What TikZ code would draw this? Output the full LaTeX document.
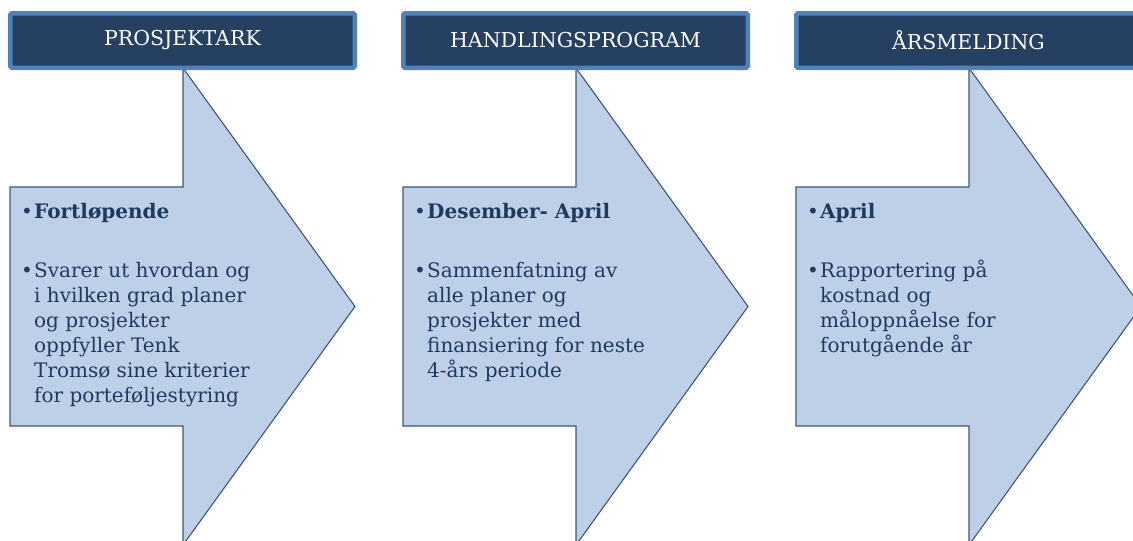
\documentclass[tikz,border=0pt]{standalone}
\usepackage{fontspec}
\setmainfont{DejaVu Serif}
\definecolor{hdrfill}{HTML}{264061}
\definecolor{hdrline}{HTML}{4F81BD}
\definecolor{arrfill}{HTML}{BED0E7}
\definecolor{arrline}{HTML}{3B5778}
\definecolor{txt}{HTML}{1F3A5F}
\tikzset{
  hdr/.style={draw=hdrline, line width=4.5pt, fill=hdrfill, rounded corners=1.5pt,
    minimum width=344.5pt, minimum height=54.5pt, inner sep=0pt, text=white,
    font=\fontsize{20.5}{25}\selectfont},
  arrowshape/.style={draw=arrline, fill=arrfill, line width=1.1pt, line join=miter},
  ttl/.style={anchor=base west, inner sep=0pt, text=txt, font=\fontsize{20}{25}\selectfont\bfseries},
  bodytxt/.style={anchor=base west, inner sep=0pt, text=txt, font=\fontsize{20}{25}\selectfont},
  bul/.style={anchor=base east, inner sep=0pt, xshift=-1pt, text=txt, font=\fontsize{20}{25}\selectfont},
}
\newcommand{\mybody}[1]{\parbox[t]{300pt}{\raggedright\baselineskip=25pt #1}}
\begin{document}
\begin{tikzpicture}[x=1pt,y=-1pt]
\useasboundingbox (0,0) rectangle (1133,541);
% arrows
\foreach \s in {183,576,969}{
  \draw[arrowshape] (\s-173,187) -- (\s,187) -- (\s,68) -- (\s+172,306.5) -- (\s,545) -- (\s,426) -- (\s-173,426) -- cycle;
}
% headers
\node[hdr] (h1) at (182.5,40.5) {PROSJEKTARK};
\node[hdr] (h2) at (575.5,40.5) {HANDLINGSPROGRAM};
\node[hdr] (h3) at (968.5,40.5) {ÅRSMELDING};
% arrow 1 text
\node[ttl] (t1) at (34,218) {Fortløpende};
\node[bul] (bt1) at (t1.base west) {•};
\node[bodytxt] (d1) at (34,277) {\mybody{Svarer ut hvordan og\\ i hvilken grad planer\\ og prosjekter\\ oppfyller Tenk\\ Tromsø sine kriterier\\ for porteføljestyring}};
\node[bul] (bd1) at (d1.base west) {•};
% arrow 2 text
\node[ttl] (t2) at (427,218) {Desember- April};
\node[bul] (bt2) at (t2.base west) {•};
\node[bodytxt] (d2) at (427,277) {\mybody{Sammenfatning av\\ alle planer og\\ prosjekter med\\ finansiering for neste\\ 4-års periode}};
\node[bul] (bd2) at (d2.base west) {•};
% arrow 3 text
\node[ttl] (t3) at (820,218) {April};
\node[bul] (bt3) at (t3.base west) {•};
\node[bodytxt] (d3) at (820,277) {\mybody{Rapportering på\\ kostnad og\\ måloppnåelse for\\ forutgående år}};
\node[bul] (bd3) at (d3.base west) {•};
\end{tikzpicture}
\end{document}
